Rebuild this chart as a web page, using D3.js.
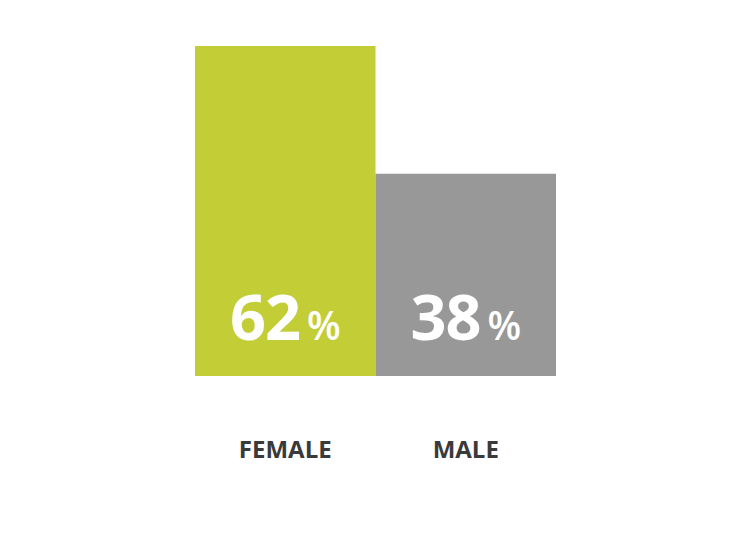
<!DOCTYPE html>
<html>
<head>
<meta charset="utf-8">
<script src="https://cdn.jsdelivr.net/npm/d3@7"></script>
<style>
  body { margin: 0; background: #fff; }
  svg { display: block; }
</style>
</head>
<body>
<svg id="chart" width="750" height="550"></svg>
<script>
const categories = ["FEMALE", "MALE"];
const values = [62, 38];
const colors = ["#c3cd36", "#979897"];

const svg = d3.select("#chart");
const x = d3.scaleBand().domain(categories).range([195, 556]).padding(0);
const y = d3.scaleLinear().domain([0, 62]).range([376, 46]);

const data = categories.map((c, i) => ({ cat: c, val: values[i], color: colors[i] }));

svg.selectAll("rect.bar").data(data).join("rect")
  .attr("class", "bar")
  .attr("x", d => x(d.cat))
  .attr("width", x.bandwidth())
  .attr("y", d => y(d.val))
  .attr("height", d => y(0) - y(d.val))
  .attr("fill", d => d.color);

const lbl = svg.selectAll("text.val").data(data).join("text")
  .attr("class", "val")
  .attr("x", d => x(d.cat) + x.bandwidth() / 2)
  .attr("y", 340)
  .attr("text-anchor", "middle")
  .attr("fill", "#fff")
  .style("font-family", "'Open Sans', sans-serif")
  .style("font-weight", 700);
lbl.append("tspan").style("font-size", "63px").style("letter-spacing", "-1px").text(d => d.val);
lbl.append("tspan").attr("dx", 7).style("font-size", "39px").style("font-weight", 600).text("%");

svg.selectAll("text.cat").data(data).join("text")
  .attr("class", "cat")
  .attr("x", d => x(d.cat) + x.bandwidth() / 2)
  .attr("y", 458)
  .attr("text-anchor", "middle")
  .attr("fill", "#3a3a3a")
  .style("font-family", "'Open Sans', sans-serif")
  .style("font-weight", 700)
  .style("font-size", "24px")
  .text(d => d.cat);
</script>
</body>
</html>
